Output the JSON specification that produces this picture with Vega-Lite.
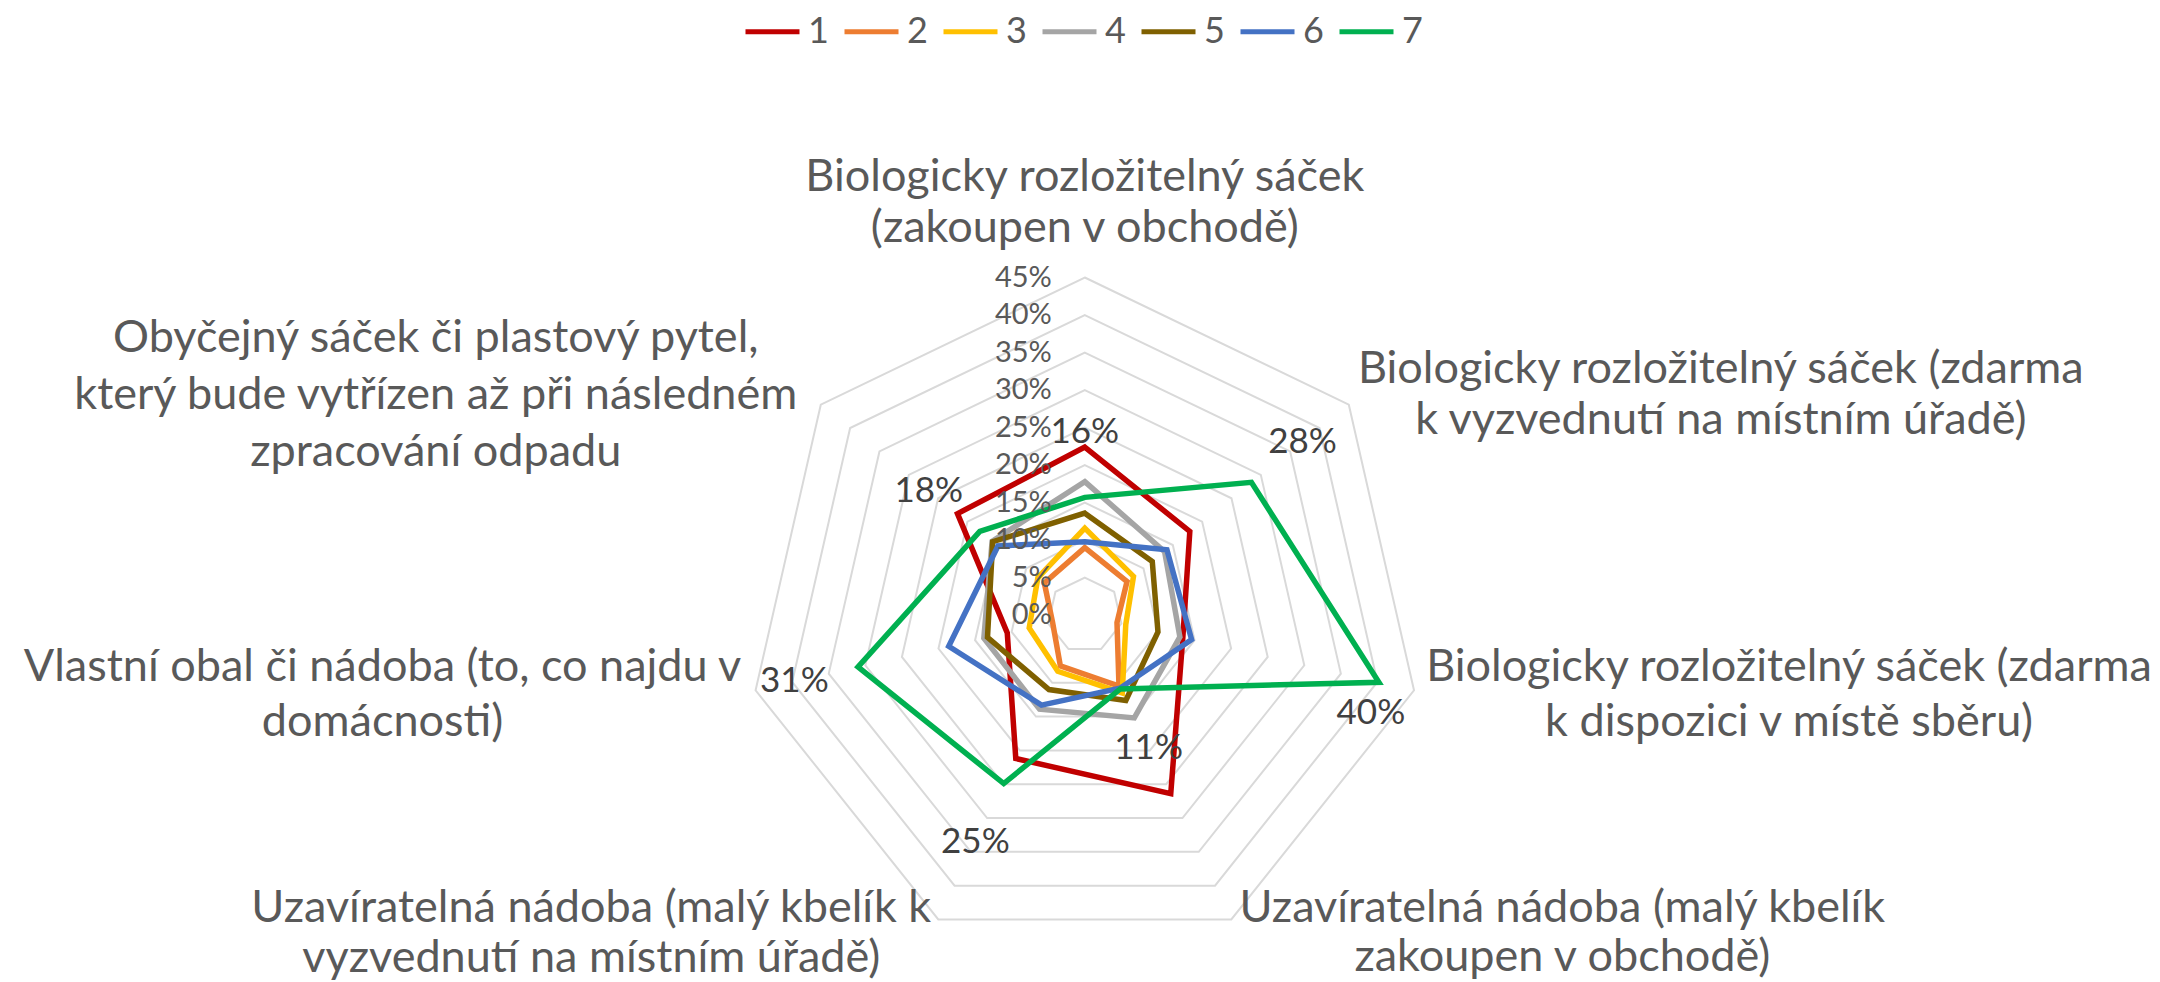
{
  "$schema": "https://vega.github.io/schema/vega-lite/v6.json",
  "width": 2160,
  "height": 982,
  "padding": 0,
  "autosize": {"type": "none"},
  "background": "white",
  "config": {"view": {"stroke": null}, "font": "Lato"},
  "datasets": {
    "rings": [
      {"r": 0.05, "k": [0, 1, 2, 3, 4, 5, 6]},
      {"r": 0.10, "k": [0, 1, 2, 3, 4, 5, 6]},
      {"r": 0.15, "k": [0, 1, 2, 3, 4, 5, 6]},
      {"r": 0.20, "k": [0, 1, 2, 3, 4, 5, 6]},
      {"r": 0.25, "k": [0, 1, 2, 3, 4, 5, 6]},
      {"r": 0.30, "k": [0, 1, 2, 3, 4, 5, 6]},
      {"r": 0.35, "k": [0, 1, 2, 3, 4, 5, 6]},
      {"r": 0.40, "k": [0, 1, 2, 3, 4, 5, 6]},
      {"r": 0.45, "k": [0, 1, 2, 3, 4, 5, 6]}
    ],
    "ticks": [
      {"t": 0}, {"t": 0.05}, {"t": 0.10}, {"t": 0.15}, {"t": 0.20},
      {"t": 0.25}, {"t": 0.30}, {"t": 0.35}, {"t": 0.40}, {"t": 0.45}
    ],
    "series": [
      {"s": "1", "k": 0, "v": 0.224}, {"s": "1", "k": 1, "v": 0.179}, {"s": "1", "k": 2, "v": 0.134}, {"s": "1", "k": 3, "v": 0.264}, {"s": "1", "k": 4, "v": 0.212}, {"s": "1", "k": 5, "v": 0.106}, {"s": "1", "k": 6, "v": 0.217},
      {"s": "2", "k": 0, "v": 0.090}, {"s": "2", "k": 1, "v": 0.072}, {"s": "2", "k": 2, "v": 0.044}, {"s": "2", "k": 3, "v": 0.105}, {"s": "2", "k": 4, "v": 0.075}, {"s": "2", "k": 5, "v": 0.044}, {"s": "2", "k": 6, "v": 0.069},
      {"s": "3", "k": 0, "v": 0.116}, {"s": "3", "k": 1, "v": 0.083}, {"s": "3", "k": 2, "v": 0.056}, {"s": "3", "k": 3, "v": 0.115}, {"s": "3", "k": 4, "v": 0.083}, {"s": "3", "k": 5, "v": 0.076}, {"s": "3", "k": 6, "v": 0.080},
      {"s": "4", "k": 0, "v": 0.178}, {"s": "4", "k": 1, "v": 0.136}, {"s": "4", "k": 2, "v": 0.130}, {"s": "4", "k": 3, "v": 0.152}, {"s": "4", "k": 4, "v": 0.139}, {"s": "4", "k": 5, "v": 0.138}, {"s": "4", "k": 6, "v": 0.158},
      {"s": "5", "k": 0, "v": 0.136}, {"s": "5", "k": 1, "v": 0.115}, {"s": "5", "k": 2, "v": 0.100}, {"s": "5", "k": 3, "v": 0.126}, {"s": "5", "k": 4, "v": 0.110}, {"s": "5", "k": 5, "v": 0.133}, {"s": "5", "k": 6, "v": 0.157},
      {"s": "6", "k": 0, "v": 0.098}, {"s": "6", "k": 1, "v": 0.140}, {"s": "6", "k": 2, "v": 0.146}, {"s": "6", "k": 3, "v": 0.108}, {"s": "6", "k": 4, "v": 0.133}, {"s": "6", "k": 5, "v": 0.186}, {"s": "6", "k": 6, "v": 0.148},
      {"s": "7", "k": 0, "v": 0.157}, {"s": "7", "k": 1, "v": 0.284}, {"s": "7", "k": 2, "v": 0.402}, {"s": "7", "k": 3, "v": 0.109}, {"s": "7", "k": 4, "v": 0.249}, {"s": "7", "k": 5, "v": 0.310}, {"s": "7", "k": 6, "v": 0.179}
    ],
    "cats": [
      {"k": 0, "lines": ["Biologicky rozložitelný sáček", "(zakoupen v obchodě)"]},
      {"k": 1, "lines": ["Biologicky rozložitelný sáček (zdarma", "k vyzvednutí na místním úřadě)"]},
      {"k": 2, "lines": ["Biologicky rozložitelný sáček (zdarma", "k dispozici v místě sběru)"]},
      {"k": 3, "lines": ["Uzavíratelná nádoba (malý kbelík", "zakoupen v obchodě)"]},
      {"k": 4, "lines": ["Uzavíratelná nádoba (malý kbelík k", "vyzvednutí na místním úřadě)"]},
      {"k": 5, "lines": ["Vlastní obal či nádoba (to, co najdu v", "domácnosti)"]},
      {"k": 6, "lines": ["Obyčejný sáček či plastový pytel,", "který bude vytřízen až při následném", "zpracování odpadu"]}
    ]
  },
  "layer": [
    {
      "data": {"name": "rings"},
      "transform": [
        {"flatten": ["k"]},
        {"calculate": "datum.k * 2 * PI / 7", "as": "a"},
        {"calculate": "datum.r * sin(datum.a)", "as": "x"},
        {"calculate": "datum.r * cos(datum.a)", "as": "y"}
      ],
      "mark": {"type": "line", "interpolate": "linear-closed", "stroke": "#d9d9d9", "strokeWidth": 2},
      "encoding": {
        "x": {"field": "x", "type": "quantitative", "scale": {"domain": [-1.44563, 1.43284], "nice": false, "zero": false}, "axis": null},
        "y": {"field": "y", "type": "quantitative", "scale": {"domain": [-0.48881, 0.81983], "nice": false, "zero": false}, "axis": null},
        "detail": {"field": "r", "type": "nominal"},
        "order": {"field": "k", "type": "quantitative"}
      }
    },
    {
      "data": {"name": "series"},
      "transform": [
        {"calculate": "datum.k * 2 * PI / 7", "as": "a"},
        {"calculate": "datum.v * sin(datum.a)", "as": "x"},
        {"calculate": "datum.v * cos(datum.a)", "as": "y"}
      ],
      "mark": {"type": "line", "interpolate": "linear-closed", "strokeWidth": 5.5, "strokeJoin": "miter"},
      "encoding": {
        "x": {"field": "x", "type": "quantitative", "scale": {"domain": [-1.44563, 1.43284], "nice": false, "zero": false}, "axis": null},
        "y": {"field": "y", "type": "quantitative", "scale": {"domain": [-0.48881, 0.81983], "nice": false, "zero": false}, "axis": null},
        "order": {"field": "k", "type": "quantitative"},
        "color": {
          "field": "s", "type": "nominal",
          "scale": {"domain": ["1", "2", "3", "4", "5", "6", "7"], "range": ["#C00000", "#ED7D31", "#FFC000", "#A5A5A5", "#7F6000", "#4472C4", "#00B050"]},
          "legend": {
            "title": null, "orient": "none", "legendX": 743, "legendY": 2, "direction": "horizontal",
            "symbolType": "stroke", "symbolStrokeWidth": 5, "symbolSize": 2916,
            "labelFontSize": 36, "labelFont": "Lato", "labelColor": "#595959", "labelOffset": 6, "columnPadding": 5
          }
        }
      }
    },
    {
      "data": {"name": "ticks"},
      "mark": {"type": "text", "align": "right", "baseline": "middle", "dx": -33, "fontSize": 29, "color": "#595959"},
      "encoding": {
        "x": {"datum": 0, "type": "quantitative"},
        "y": {"field": "t", "type": "quantitative"},
        "text": {"field": "t", "type": "quantitative", "format": ".0%"}
      }
    },
    {
      "data": {"name": "series"},
      "transform": [
        {"filter": "datum.s === '7' && datum.k !== 2"},
        {"calculate": "datum.k * 2 * PI / 7", "as": "a"},
        {"calculate": "(datum.v + 0.087) * sin(datum.a)", "as": "x"},
        {"calculate": "(datum.v + 0.087) * cos(datum.a)", "as": "y"}
      ],
      "mark": {"type": "text", "align": "center", "baseline": "middle", "fontSize": 35, "color": "#404040"},
      "encoding": {
        "x": {"field": "x", "type": "quantitative"},
        "y": {"field": "y", "type": "quantitative"},
        "text": {"field": "v", "type": "quantitative", "format": ".0%"}
      }
    },
    {
      "data": {"name": "series"},
      "transform": [
        {"filter": "datum.s === '7' && datum.k === 2"},
        {"calculate": "datum.k * 2 * PI / 7", "as": "a"},
        {"calculate": "datum.v * sin(datum.a)", "as": "x"},
        {"calculate": "datum.v * cos(datum.a)", "as": "y"}
      ],
      "mark": {"type": "text", "align": "center", "baseline": "middle", "fontSize": 35, "color": "#404040", "dx": -8, "dy": 31},
      "encoding": {
        "x": {"field": "x", "type": "quantitative"},
        "y": {"field": "y", "type": "quantitative"},
        "text": {"field": "v", "type": "quantitative", "format": ".0%"}
      }
    },
    {
      "data": {"name": "cats"},
      "transform": [{"filter": "datum.k === 0"}, {"calculate": "0.45 * sin(datum.k * 2 * PI / 7)", "as": "x"}, {"calculate": "0.45 * cos(datum.k * 2 * PI / 7)", "as": "y"}],
      "mark": {"type": "text", "align": "center", "baseline": "middle", "fontSize": 45, "lineHeight": 51, "color": "#595959", "dx": 0, "dy": -101},
      "encoding": {"x": {"field": "x", "type": "quantitative"}, "y": {"field": "y", "type": "quantitative"}, "text": {"field": "lines"}}
    },
    {
      "data": {"name": "cats"},
      "transform": [{"filter": "datum.k === 1"}, {"calculate": "0.45 * sin(datum.k * 2 * PI / 7)", "as": "x"}, {"calculate": "0.45 * cos(datum.k * 2 * PI / 7)", "as": "y"}],
      "mark": {"type": "text", "align": "center", "baseline": "middle", "fontSize": 45, "lineHeight": 51, "color": "#595959", "dx": 372, "dy": -36},
      "encoding": {"x": {"field": "x", "type": "quantitative"}, "y": {"field": "y", "type": "quantitative"}, "text": {"field": "lines"}}
    },
    {
      "data": {"name": "cats"},
      "transform": [{"filter": "datum.k === 2"}, {"calculate": "0.45 * sin(datum.k * 2 * PI / 7)", "as": "x"}, {"calculate": "0.45 * cos(datum.k * 2 * PI / 7)", "as": "y"}],
      "mark": {"type": "text", "align": "center", "baseline": "middle", "fontSize": 45, "lineHeight": 55, "color": "#595959", "dx": 375, "dy": -23},
      "encoding": {"x": {"field": "x", "type": "quantitative"}, "y": {"field": "y", "type": "quantitative"}, "text": {"field": "lines"}}
    },
    {
      "data": {"name": "cats"},
      "transform": [{"filter": "datum.k === 3"}, {"calculate": "0.45 * sin(datum.k * 2 * PI / 7)", "as": "x"}, {"calculate": "0.45 * cos(datum.k * 2 * PI / 7)", "as": "y"}],
      "mark": {"type": "text", "align": "center", "baseline": "middle", "fontSize": 45, "lineHeight": 49, "color": "#595959", "dx": 331, "dy": -11},
      "encoding": {"x": {"field": "x", "type": "quantitative"}, "y": {"field": "y", "type": "quantitative"}, "text": {"field": "lines"}}
    },
    {
      "data": {"name": "cats"},
      "transform": [{"filter": "datum.k === 4"}, {"calculate": "0.45 * sin(datum.k * 2 * PI / 7)", "as": "x"}, {"calculate": "0.45 * cos(datum.k * 2 * PI / 7)", "as": "y"}],
      "mark": {"type": "text", "align": "center", "baseline": "middle", "fontSize": 45, "lineHeight": 50, "color": "#595959", "dx": -347, "dy": -11},
      "encoding": {"x": {"field": "x", "type": "quantitative"}, "y": {"field": "y", "type": "quantitative"}, "text": {"field": "lines"}}
    },
    {
      "data": {"name": "cats"},
      "transform": [{"filter": "datum.k === 5"}, {"calculate": "0.45 * sin(datum.k * 2 * PI / 7)", "as": "x"}, {"calculate": "0.45 * cos(datum.k * 2 * PI / 7)", "as": "y"}],
      "mark": {"type": "text", "align": "center", "baseline": "middle", "fontSize": 45, "lineHeight": 55, "color": "#595959", "dx": -373, "dy": -23},
      "encoding": {"x": {"field": "x", "type": "quantitative"}, "y": {"field": "y", "type": "quantitative"}, "text": {"field": "lines"}}
    },
    {
      "data": {"name": "cats"},
      "transform": [{"filter": "datum.k === 6"}, {"calculate": "0.45 * sin(datum.k * 2 * PI / 7)", "as": "x"}, {"calculate": "0.45 * cos(datum.k * 2 * PI / 7)", "as": "y"}],
      "mark": {"type": "text", "align": "center", "baseline": "middle", "fontSize": 45, "lineHeight": 57, "color": "#595959", "dx": -385, "dy": -67},
      "encoding": {"x": {"field": "x", "type": "quantitative"}, "y": {"field": "y", "type": "quantitative"}, "text": {"field": "lines"}}
    }
  ]
}
